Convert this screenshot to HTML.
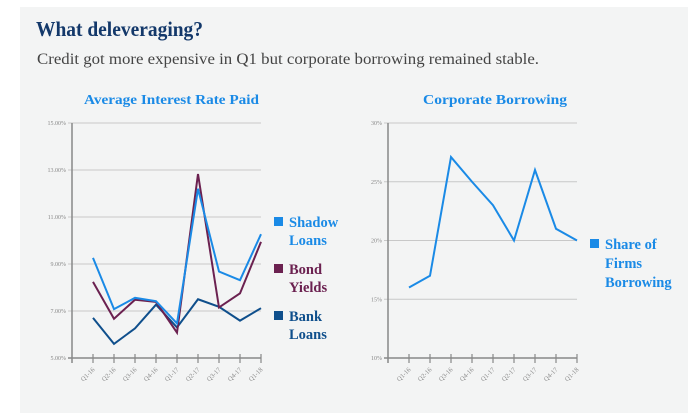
<!DOCTYPE html>
<html><head><meta charset="utf-8"><style>
html,body{margin:0;padding:0;background:#fff;width:700px;height:413px;overflow:hidden}
svg{display:block;font-family:"Liberation Serif",serif}
</style></head><body>
<svg width="700" height="413" viewBox="0 0 700 413">
<rect x="20" y="7" width="668" height="406" fill="#f3f4f4"/>
<text x="36" y="36" font-size="21" font-weight="bold" fill="#13386a" textLength="167" lengthAdjust="spacingAndGlyphs">What deleveraging?</text>
<text x="37" y="64" font-size="16" fill="#444" textLength="502" lengthAdjust="spacingAndGlyphs">Credit got more expensive in Q1 but corporate borrowing remained stable.</text>
<text x="84" y="104" font-size="14" font-weight="bold" fill="#1a8ae6" textLength="175" lengthAdjust="spacingAndGlyphs">Average Interest Rate Paid</text>
<text x="423" y="104" font-size="14" font-weight="bold" fill="#1a8ae6" textLength="144" lengthAdjust="spacingAndGlyphs">Corporate Borrowing</text>
<g id="left"></g>
<g id="right"></g>
<g font-size="14.5" font-weight="bold">
<rect x="274" y="217" width="9" height="9" fill="#1a8ae6"/>
<text x="289" y="227" fill="#1a8ae6"><tspan x="289">Shadow</tspan><tspan x="289" dy="18">Loans</tspan></text>
<rect x="274" y="264" width="9" height="9" fill="#6b2150"/>
<text x="289" y="274" fill="#6b2150"><tspan x="289">Bond</tspan><tspan x="289" dy="18">Yields</tspan></text>
<rect x="274" y="311" width="9" height="9" fill="#0f4f8c"/>
<text x="289" y="321" fill="#0f4f8c"><tspan x="289">Bank</tspan><tspan x="289" dy="18">Loans</tspan></text>
</g>
<g font-size="14.5" font-weight="bold" fill="#1a8ae6">
<rect x="590" y="239" width="9" height="9" fill="#1a8ae6"/>
<text x="605" y="249" fill="#1a8ae6"><tspan x="605">Share of</tspan><tspan x="605" dy="19">Firms</tspan><tspan x="605" dy="19">Borrowing</tspan></text>
</g>
</svg>
<script>
const categories=["Q1-16","Q2-16","Q3-16","Q4-16","Q1-17","Q2-17","Q3-17","Q4-17","Q1-18"];
const shadowLoans=[9.26,7.08,7.56,7.42,6.47,12.2,8.68,8.31,10.27];
const bondYields=[8.24,6.67,7.48,7.39,6.08,12.83,7.15,7.75,9.94];
const bankLoans=[6.71,5.6,6.26,7.27,6.3,7.5,7.18,6.59,7.12];
const leftTicks=[5,7,9,11,13,15];
const leftTickLabels=["5.00%","7.00%","9.00%","11.00%","13.00%","15.00%"];
const shareBorrowing=[16,17,27.1,25,23,20,26,21,20];
const rightTicks=[10,15,20,25,30];
const rightTickLabels=["10%","15%","20%","25%","30%"];
const NS="http://www.w3.org/2000/svg";
function mk(parent,tag,attrs){const e=document.createElementNS(NS,tag);for(const k in attrs)e.setAttribute(k,attrs[k]);parent.appendChild(e);return e;}
function chart(g,ax,x0,step,gridEnd,yMin,yMax,ticks,labels,series,colors,names){
  const top=123,bot=358;
  const y=v=>bot-(v-yMin)/(yMax-yMin)*(bot-top);
  const x=i=>x0+i*step;
  ticks.forEach((t,i)=>{
    const l=mk(g,'line',{x1:ax-4,x2:gridEnd,y1:y(t),y2:y(t),stroke:i==0?'#888':'#c8c8c8','stroke-width':i==0?1.5:1});
    
    
    const tx=mk(g,'text',{x:ax-6,y:y(t)+2,'font-size':6,fill:'#888','text-anchor':'end'});
    tx.textContent=labels[i];
    
    
  });
  const axl=mk(g,'line',{x1:ax,x2:ax,y1:top,y2:bot+5,stroke:'#888','stroke-width':1.5});
  
  
  categories.forEach((c,i)=>{
    const tk=mk(g,'line',{x1:x(i),x2:x(i),y1:bot-4,y2:bot+5,stroke:'#888','stroke-width':1.2});
    
    
    const tx=mk(g,'text',{x:x(i)+2,y:bot+12,'font-size':6.5,fill:'#888','text-anchor':'end',transform:`rotate(-45 ${x(i)+2} ${bot+12})`});
    tx.textContent=c;
    
    
  });
  series.forEach((s,k)=>{
    const p=mk(g,'polyline',{points:s.map((v,i)=>x(i)+','+y(v)).join(' '),fill:'none',stroke:colors[k],'stroke-width':2,'stroke-linejoin':'miter'});
    
    
  });
}
chart(document.getElementById('left'),72,93,21,261,5,15,leftTicks,leftTickLabels,[bankLoans,bondYields,shadowLoans],['#0f4f8c','#6b2150','#1a8ae6'],['bank-loans-line','bond-yields-line','shadow-loans-line']);
chart(document.getElementById('right'),388,409,21,577,10,30,rightTicks,rightTickLabels,[shareBorrowing],['#1a8ae6'],['share-borrowing-line']);
</script>
</body></html>
